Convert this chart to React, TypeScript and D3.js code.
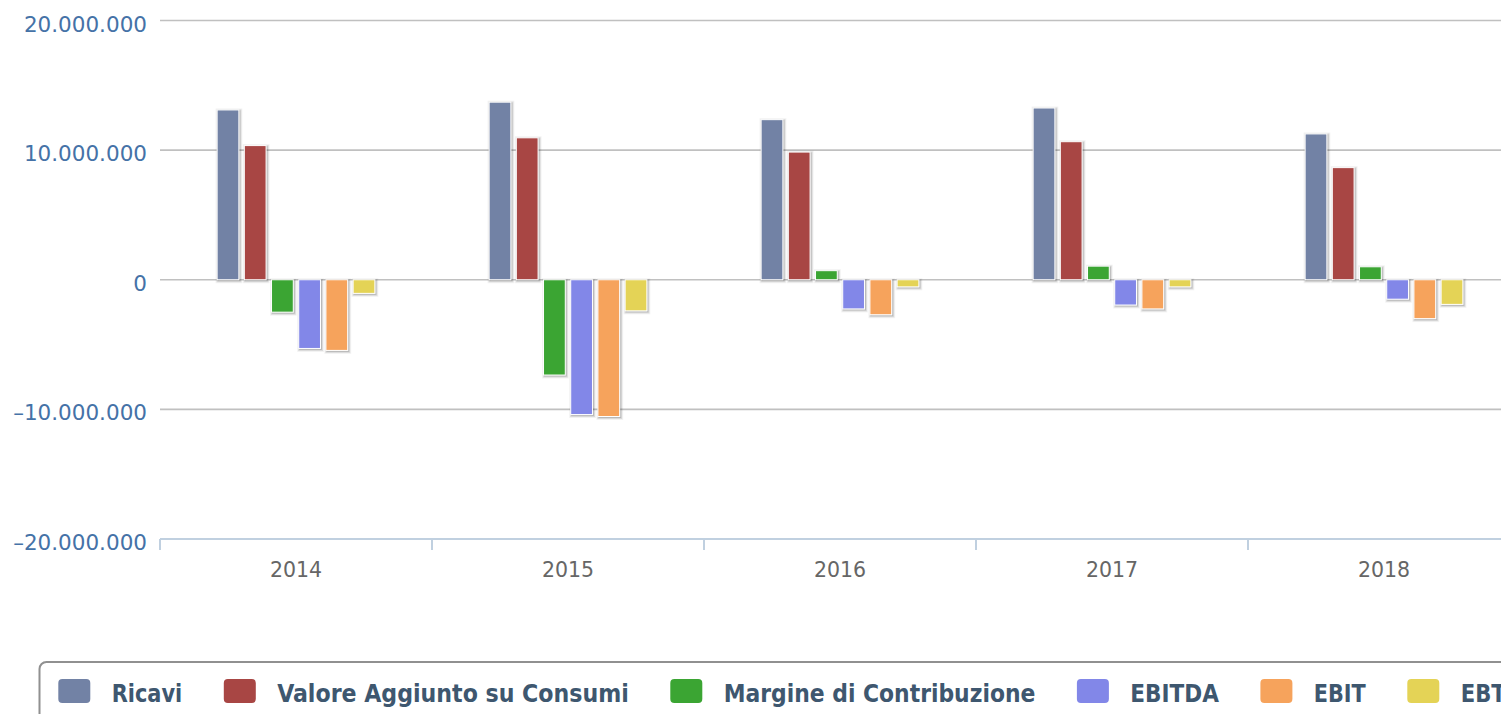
import React from "react";
import * as d3 from "d3";

const years = ["2014", "2015", "2016", "2017", "2018"];
const seriesNames = ["Ricavi", "Valore Aggiunto su Consumi", "Margine di Contribuzione", "EBITDA", "EBIT", "EBT"];
const ricavi = [13100000, 13700000, 12350000, 13250000, 11250000];
const valore = [10350000, 10950000, 9850000, 10650000, 8650000];
const margine = [-2500000, -7350000, 700000, 1050000, 1000000];
const ebitda = [-5300000, -10400000, -2250000, -1950000, -1500000];
const ebit = [-5450000, -10550000, -2700000, -2250000, -3000000];
const ebt = [-1050000, -2400000, -550000, -550000, -1900000];
const yTicks = [-20000000, -10000000, 0, 10000000, 20000000];

const seriesValues = [ricavi, valore, margine, ebitda, ebit, ebt];
const colors = ["#7282A5", "#A84644", "#3BA533", "#8287E8", "#F6A35C", "#E4D356"];
// measured legend label widths (layout)
const legendWidths = [70.6, 351.6, 311.7, 88.6, 52, 45];

const W = 1501;
const H = 714;
const plotLeft = 160;
const plotRight = 1520;
const plotTop = 20.5;
const plotBottom = 539;

const loc = d3.formatLocale({ decimal: ",", thousands: ".", grouping: [3], currency: ["", ""], minus: "\u2013" });
const fmt = loc.format(",.0f");

export default function App() {
  const y = d3.scaleLinear().domain([-20000000, 20000000]).range([plotBottom, plotTop]);
  const x0 = d3.scaleBand<string>().domain(years).range([plotLeft, plotRight]);
  const bw = x0.bandwidth();
  const x1 = d3
    .scaleBand<string>()
    .domain(seriesNames)
    .range([0.2 * bw, 0.8 * bw])
    .paddingInner(0.2)
    .paddingOuter(0.1);

  const bars: React.ReactNode[] = [];
  seriesNames.forEach((s, si) => {
    seriesValues[si].forEach((v, yi) => {
      const bx = (x0(years[yi]) as number) + (x1(s) as number);
      const w = x1.bandwidth();
      const y0 = y(0);
      const yv = y(v);
      const top = Math.min(y0, yv);
      const h = Math.abs(yv - y0);
      const key = `${si}-${yi}`;
      bars.push(
        <g key={key}>
          {[
            [5, 0.05],
            [3, 0.1],
            [1, 0.15],
          ].map(([sw, op], k) => (
            <rect
              key={k}
              x={bx + 1}
              y={top + 1}
              width={w}
              height={h}
              fill="none"
              stroke="#000"
              strokeOpacity={op}
              strokeWidth={sw}
            />
          ))}
          <rect x={bx} y={top} width={w} height={h} fill={colors[si]} stroke="#fff" strokeWidth={1} />
        </g>
      );
    });
  });

  // legend layout
  const legendItems: React.ReactNode[] = [];
  let lx = 58.3;
  seriesNames.forEach((s, i) => {
    const tx = lx + 53.4;
    legendItems.push(
      <g key={s}>
        <rect x={lx} y={679} width={32} height={24} rx={4} fill={colors[i]} />
        <text
          x={tx}
          y={701.5}
          fontFamily="'DejaVu Sans Condensed', 'DejaVu Sans', sans-serif"
          fontWeight="bold"
          fontSize={24}
          fill="#3E576F"
          textLength={legendWidths[i]}
          lengthAdjust="spacingAndGlyphs"
        >
          {s}
        </text>
      </g>
    );
    lx = tx + legendWidths[i] + 41.5;
  });

  const tickBounds = years.map((yr) => x0(yr) as number).concat([plotRight]);

  return (
    <div style={{ position: "absolute", left: 0, top: 0 }}>
      <svg width={W} height={H} style={{ display: "block", background: "#fff" }}>
        <rect x={0} y={0} width={W} height={H} fill="#fff" />
        {/* grid */}
        {yTicks.map((t) => (
          <line key={t} x1={plotLeft} x2={W} y1={y(t)} y2={y(t)} stroke="#C0C0C0" strokeWidth={1.6} />
        ))}
        {/* y labels */}
        {yTicks.map((t) => (
          <text
            key={"l" + t}
            x={147}
            y={y(t) + 11}
            textAnchor="end"
            fontFamily="'DejaVu Sans', sans-serif"
            fontSize={21.5}
            fill="#4572A7"
          >
            {fmt(t)}
          </text>
        ))}
        {/* bars */}
        {bars}
        {/* x axis */}
        <line x1={plotLeft} x2={W} y1={plotBottom} y2={plotBottom} stroke="#C0D0E0" strokeWidth={2} />
        {tickBounds.map((tx, i) => (
          <line key={"t" + i} x1={tx} x2={tx} y1={plotBottom} y2={plotBottom + 11} stroke="#C0D0E0" strokeWidth={2} />
        ))}
        {years.map((yr) => (
          <text
            key={"x" + yr}
            x={(x0(yr) as number) + bw / 2}
            y={577}
            textAnchor="middle"
            fontFamily="'DejaVu Sans', sans-serif"
            fontSize={20.5}
            fill="#666666"
          >
            {yr}
          </text>
        ))}
        {/* legend */}
        <rect x={39.5} y={662} width={1600} height={100} rx={7} fill="#fff" stroke="#909090" strokeWidth={2} />
        {legendItems}
      </svg>
    </div>
  );
}
